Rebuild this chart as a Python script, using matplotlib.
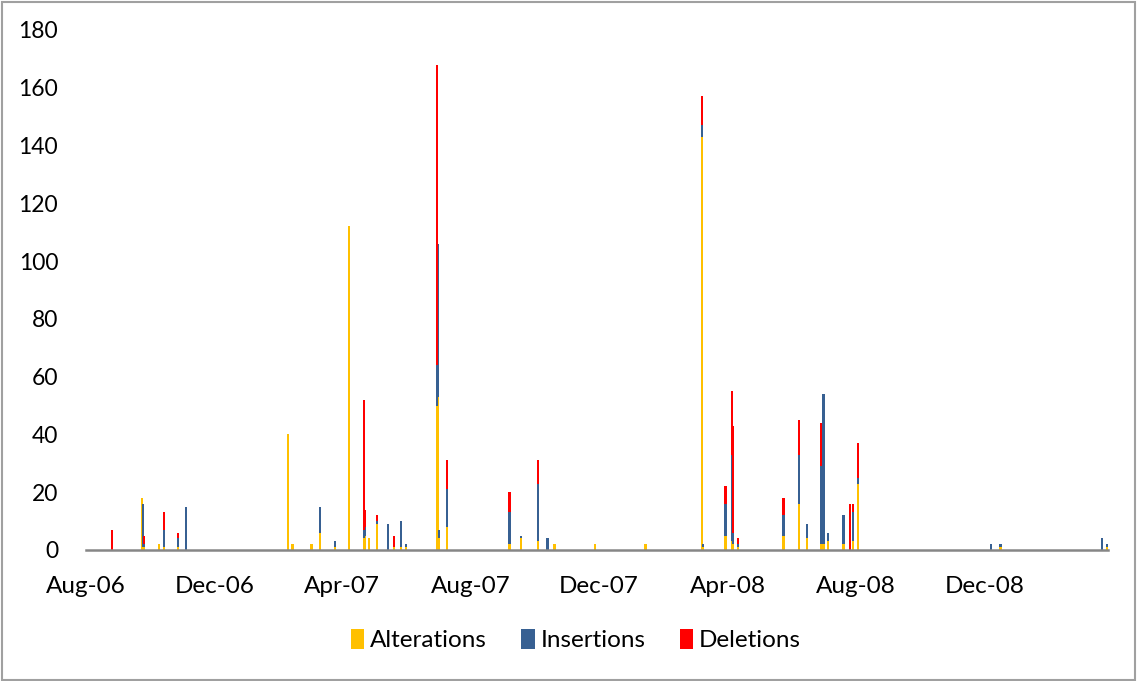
import matplotlib
matplotlib.use("Agg")
import matplotlib.pyplot as plt
from matplotlib.patches import Patch, Rectangle
import numpy as np
import datetime as dt

dates = [
    "2006-08-26", "2006-09-23", "2006-09-24", "2006-09-25", "2006-10-09",
    "2006-10-14", "2006-10-27", "2006-11-04", "2007-02-09", "2007-02-13",
    "2007-03-03", "2007-03-11", "2007-03-25", "2007-04-08", "2007-04-22",
    "2007-04-23", "2007-04-27", "2007-05-04", "2007-05-15", "2007-05-20",
    "2007-05-27", "2007-06-01", "2007-06-30", "2007-07-01", "2007-07-02",
    "2007-07-10", "2007-09-07", "2007-09-18", "2007-10-04", "2007-10-13",
    "2007-10-19", "2007-10-20", "2007-11-27", "2008-01-14", "2008-03-08",
    "2008-03-09", "2008-03-30", "2008-04-05", "2008-04-06", "2008-04-11",
    "2008-05-24", "2008-06-08", "2008-06-15", "2008-06-29", "2008-07-01",
    "2008-07-05", "2008-07-20", "2008-07-26", "2008-07-29", "2008-08-03",
    "2008-12-07", "2008-12-16", "2009-03-22", "2009-03-27",
]
alterations = [
    0, 18, 1, 1, 2,
    1, 1, 0, 40, 2,
    2, 6, 1, 112, 4,
    5, 4, 9, 0, 1,
    1, 1, 50, 53, 4,
    8, 2, 4, 3, 0,
    2, 2, 2, 2, 143,
    1, 5, 3, 2, 1,
    5, 16, 4, 2, 2,
    3, 2, 0, 3, 23,
    0, 1, 0, 1,
]
insertions = [
    0, 0, 15, 1, 0,
    6, 3, 15, 0, 0,
    0, 9, 2, 0, 3,
    3, 0, 1, 9, 0,
    9, 1, 14, 53, 3,
    13, 11, 1, 20, 4,
    0, 0, 0, 0, 4,
    1, 11, 30, 4, 1,
    7, 17, 5, 27, 52,
    3, 10, 0, 10, 2,
    2, 1, 4, 1,
]
deletions = [
    7, 0, 0, 3, 0,
    6, 2, 0, 0, 0,
    0, 0, 0, 0, 45,
    6, 0, 2, 0, 4,
    0, 0, 104, 0, 0,
    10, 7, 0, 8, 0,
    0, 0, 0, 0, 10,
    0, 6, 22, 37, 2,
    6, 12, 0, 15, 0,
    0, 0, 16, 3, 12,
    0, 0, 0, 0,
]
series_names = ["Alterations", "Insertions", "Deletions"]
tick_dates = ["2006-08-01", "2006-12-01", "2007-04-01", "2007-08-01",
              "2007-12-01", "2008-04-01", "2008-08-01", "2008-12-01"]

colors = ["#FFC000", "#376092", "#FF0000"]

plt.rcParams['font.family'] = ['Lato', 'DejaVu Sans']

x = [dt.datetime.strptime(d, "%Y-%m-%d") for d in dates]
a = np.array(alterations, float)
i = np.array(insertions, float)
d = np.array(deletions, float)

fig = plt.figure(figsize=(11.37, 6.81), dpi=100)
ax = fig.add_axes([86/1137, 1-550/681, (1108-86)/1137, 520/681])

w = 2.0
kw = dict(width=w, linewidth=0, antialiased=False)
ax.bar(x, a, color=colors[0], label=series_names[0], **kw)
ax.bar(x, i, bottom=a, color=colors[1], label=series_names[1], **kw)
ax.bar(x, d, bottom=a + i, color=colors[2], label=series_names[2], **kw)

ax.set_ylim(0, 180)
ax.set_yticks(np.arange(0, 181, 20))
ax.set_xlim(dt.datetime(2006, 8, 1), dt.datetime(2009, 3, 28))
tds = [dt.datetime.strptime(t, "%Y-%m-%d") for t in tick_dates]
ax.set_xticks(tds)
ax.set_xticklabels([t.strftime("%b-%y") for t in tds])

for s in ["top", "right", "left"]:
    ax.spines[s].set_visible(False)
ax.spines["bottom"].set_color("#868686")
ax.spines["bottom"].set_linewidth(1.8)
ax.tick_params(axis="both", length=0, colors="black")
ax.tick_params(axis="y", pad=20, labelsize=16.5)
ax.tick_params(axis="x", pad=19, labelsize=17.5)

handles = [Patch(facecolor=c, edgecolor='none') for c in colors]
fig.legend(handles, series_names, loc="center", bbox_to_anchor=(576/1137, 1-640/681),
           ncol=3, frameon=False, fontsize=17.5, handlelength=0.55, handleheight=0.9,
           handletextpad=0.25, columnspacing=1.4)

fig.patches.append(Rectangle((0.002, 0.002), 0.996, 0.995, transform=fig.transFigure,
                             fill=False, edgecolor="#A0A0A0", linewidth=1.5))

fig.savefig("out.png", dpi=100)
